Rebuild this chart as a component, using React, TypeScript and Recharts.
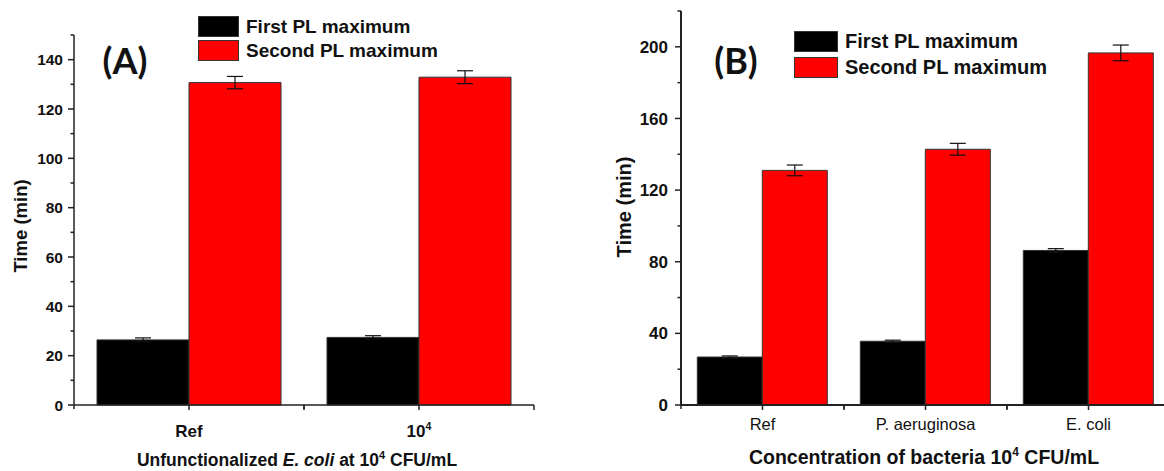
import { BarChart, Bar, XAxis, YAxis, ErrorBar, Legend } from 'recharts'

// panel A
const categoriesA = ['Ref', '10^4']
const firstA = [26.4, 27.4]
const firstErrA = [0.8, 0.7]
const secondA = [130.7, 132.9]
const secondErrA = [2.5, 2.6]
const ticksA = [0, 10, 20, 30, 40, 50, 60, 70, 80, 90, 100, 110, 120, 130, 140, 150]

// panel B
const categoriesB = ['Ref', 'P. aeruginosa', 'E. coli']
const firstB = [26.8, 35.6, 86.3]
const firstErrB = [0.6, 0.6, 1.0]
const secondB = [131, 142.8, 196.6]
const secondErrB = [3, 3.3, 4.4]
const ticksB = [0, 20, 40, 60, 80, 100, 120, 140, 160, 180, 200, 220]

const seriesNames = ['First PL maximum', 'Second PL maximum']
const seriesColors = ['#000000', '#ff0000']

const font = '"Liberation Sans", Arial, sans-serif'
const axisColor = '#222'

const dataA = categoriesA.map((c, i) => ({
  name: c,
  first: firstA[i],
  firstErr: firstErrA[i],
  second: secondA[i],
  secondErr: secondErrA[i],
}))

const dataB = categoriesB.map((c, i) => ({
  name: c,
  first: firstB[i],
  firstErr: firstErrB[i],
  second: secondB[i],
  secondErr: secondErrB[i],
}))

function YTick(props: any) {
  const { x, y, payload, major, fontSize, dx } = props
  const isMajor = payload.value % major === 0
  return (
    <g>
      <line x1={x - (isMajor ? 6 : 3.5)} x2={x} y1={y} y2={y} stroke={axisColor} strokeWidth={1.5} />
      {isMajor && (
        <text
          x={x - dx}
          y={y}
          dy="0.36em"
          textAnchor="end"
          fontSize={fontSize}
          fontWeight="bold"
          fontFamily={font}
          fill="#111"
        >
          {payload.value}
        </text>
      )}
    </g>
  )
}

function XTick(props: any) {
  const { x, y, payload, band, fontSize, bold, dy } = props
  const [base, sup] = String(payload.value).split('^')
  return (
    <g>
      <line x1={x} x2={x} y1={y} y2={y + 5} stroke={axisColor} strokeWidth={1.5} />
      <line x1={x + band / 2} x2={x + band / 2} y1={y} y2={y + 5} stroke={axisColor} strokeWidth={1.5} />
      <line x1={x - band / 2} x2={x - band / 2} y1={y} y2={y + 4} stroke={axisColor} strokeWidth={1.5} />
      <text
        x={x}
        y={y + dy}
        textAnchor="middle"
        fontSize={fontSize}
        fontWeight={bold ? 'bold' : 'normal'}
        fontFamily={font}
        fill="#111"
      >
        {base}
        {sup && (
          <tspan dy={-7} fontSize={fontSize * 0.62}>
            {sup}
          </tspan>
        )}
      </text>
    </g>
  )
}

function LegendBox({ boxW, rowH, fontSize }: { boxW: number; rowH: number; fontSize: number }) {
  return (
    <div style={{ fontFamily: font }}>
      {seriesNames.map((name, i) => (
        <div key={name} style={{ display: 'flex', alignItems: 'center', height: rowH }}>
          <div
            style={{
              width: boxW,
              height: 21,
              background: seriesColors[i],
              border: '1px solid #333',
              boxSizing: 'border-box',
            }}
          />
          <span style={{ marginLeft: 7, fontSize, fontWeight: 'bold', color: '#111', lineHeight: 1, whiteSpace: 'nowrap' }}>
            {name}
          </span>
        </div>
      ))}
    </div>
  )
}

function YTitle({ x, y, fontSize }: { x: number; y: number; fontSize: number }) {
  return (
    <text
      x={x}
      y={y}
      dy="0.36em"
      transform={`rotate(-90, ${x}, ${y})`}
      textAnchor="middle"
      fontSize={fontSize}
      fontWeight="bold"
      fontFamily={font}
      fill="#111"
    >
      Time (min)
    </text>
  )
}

export default function App() {
  return (
    <div
      style={{
        position: 'absolute',
        left: 0,
        top: 0,
        width: 1164,
        height: 471,
        overflow: 'hidden',
        background: '#fff',
      }}
    >
      <div style={{ position: 'absolute', left: 0, top: 0 }}>
        <BarChart
          width={560}
          height={471}
          data={dataA}
          margin={{ top: 35, right: 26, bottom: 0, left: 0 }}
          barCategoryGap="10%"
          barGap={0}
        >
          <XAxis
            dataKey="name"
            height={66}
            stroke={axisColor}
            strokeWidth={1.5}
            tickLine={false}
            tickSize={0}
            tickMargin={0}
            interval={0}
            tick={(p: any) => <XTick {...p} band={230} fontSize={17} bold dy={31.5} />}
            label={{
              content: () => (
                <text x={297} y={466} textAnchor="middle" fontSize={17.5} fontWeight="bold" fontFamily={font} fill="#111">
                  <tspan>Unfunctionalized </tspan>
                  <tspan fontStyle="italic">E. coli</tspan>
                  <tspan> at 10</tspan>
                  <tspan dy={-7} fontSize={11}>4</tspan>
                  <tspan dy={7}> CFU/mL</tspan>
                </text>
              ),
            }}
          />
          <YAxis
            type="number"
            width={74}
            domain={[0, 150]}
            ticks={ticksA}
            interval={0}
            stroke={axisColor}
            strokeWidth={1.5}
            tickLine={false}
            tickSize={0}
            tickMargin={0}
            tick={(p: any) => <YTick {...p} major={20} fontSize={15.5} dx={11} />}
            label={{ content: () => <YTitle x={20} y={226} fontSize={18.5} /> }}
          />
          <Legend
            layout="vertical"
            align="center"
            verticalAlign="middle"
            wrapperStyle={{ left: 198, top: 14, width: 260 }}
            content={() => <LegendBox boxW={41} rowH={24.3} fontSize={19} />}
          />
          <Bar dataKey="first" name={seriesNames[0]} fill={seriesColors[0]} stroke="#333" strokeWidth={1} isAnimationActive={false}>
            <ErrorBar dataKey="firstErr" width={8} stroke="#111" strokeWidth={1.2} direction="y" />
          </Bar>
          <Bar dataKey="second" name={seriesNames[1]} fill={seriesColors[1]} stroke="#333" strokeWidth={1} isAnimationActive={false}>
            <ErrorBar dataKey="secondErr" width={8} stroke="#111" strokeWidth={1.2} direction="y" />
          </Bar>
        </BarChart>
      </div>

      <div style={{ position: 'absolute', left: 590, top: 0 }}>
        <BarChart
          width={580}
          height={471}
          data={dataB}
          margin={{ top: 11, right: 0, bottom: 0, left: 0 }}
          barCategoryGap="10%"
          barGap={0}
        >
          <XAxis
            dataKey="name"
            height={66}
            stroke={axisColor}
            strokeWidth={2}
            tickLine={false}
            tickSize={0}
            tickMargin={0}
            interval={0}
            tick={(p: any) => <XTick {...p} band={163} fontSize={16.5} bold={false} dy={25} />}
            label={{
              content: () => (
                <text x={334} y={464} textAnchor="middle" fontSize={19.5} fontWeight="bold" fontFamily={font} fill="#111">
                  <tspan>Concentration of bacteria 10</tspan>
                  <tspan dy={-8} fontSize={12}>4</tspan>
                  <tspan dy={8}> CFU/mL</tspan>
                </text>
              ),
            }}
          />
          <YAxis
            type="number"
            width={91}
            domain={[0, 220]}
            ticks={ticksB}
            interval={0}
            stroke={axisColor}
            strokeWidth={2}
            tickLine={false}
            tickSize={0}
            tickMargin={0}
            tick={(p: any) => <YTick {...p} major={40} fontSize={17} dx={13} />}
            label={{ content: () => <YTitle x={34} y={207} fontSize={20} /> }}
          />
          <Legend
            layout="vertical"
            align="center"
            verticalAlign="middle"
            wrapperStyle={{ left: 204, top: 28, width: 280 }}
            content={() => <LegendBox boxW={44} rowH={26} fontSize={20} />}
          />
          <Bar dataKey="first" name={seriesNames[0]} fill={seriesColors[0]} stroke="#333" strokeWidth={1} isAnimationActive={false}>
            <ErrorBar dataKey="firstErr" width={8} stroke="#111" strokeWidth={1.2} direction="y" />
          </Bar>
          <Bar dataKey="second" name={seriesNames[1]} fill={seriesColors[1]} stroke="#333" strokeWidth={1} isAnimationActive={false}>
            <ErrorBar dataKey="secondErr" width={8} stroke="#111" strokeWidth={1.2} direction="y" />
          </Bar>
        </BarChart>
      </div>

      <svg width={1164} height={471} style={{ position: 'absolute', left: 0, top: 0, pointerEvents: 'none' }}>
        <text x={125} y={74} textAnchor="middle" fontSize={36} fontWeight="bold" fontFamily="Lato, sans-serif" fill="#111">
          (A)
        </text>
        <text x={736} y={74} textAnchor="middle" fontSize={36} fontWeight="bold" fontFamily="Lato, sans-serif" fill="#111">
          (B)
        </text>
      </svg>
    </div>
  )
}
